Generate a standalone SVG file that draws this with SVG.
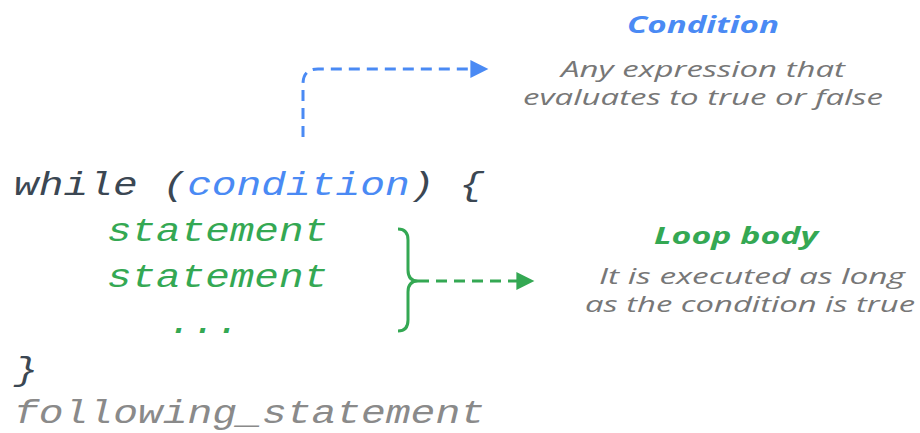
<svg xmlns="http://www.w3.org/2000/svg" width="920" height="433" viewBox="0 0 920 433">
  <style>
    .code { font-family: "Liberation Mono", "DejaVu Sans Mono", monospace; font-style: italic; font-size: 34px; }
    .dark { fill: #3b4753; }
    .blue { fill: #4a8af4; }
    .green { fill: #34a853; }
    .grey { fill: #8a8a8a; }
    .title { font-family: "Open Sans", "Noto Sans", sans-serif; font-style: italic; font-weight: bold; font-size: 24px; }
    .note { font-family: "Open Sans", "Noto Sans", sans-serif; font-style: italic; font-size: 22px; fill: #777777; }
    .dash { fill: none; stroke-width: 3; stroke-dasharray: 11 7; }
  </style>
  <defs>
    <marker id="arrowBlue" viewBox="0 0 10 10" refX="2" refY="5" markerWidth="7" markerHeight="6" orient="auto" markerUnits="strokeWidth">
      <path d="M0,0 L10,5 L0,10 Z" fill="#4a8af4"/>
    </marker>
    <marker id="arrowGreen" viewBox="0 0 10 10" refX="2" refY="5" markerWidth="7" markerHeight="6" orient="auto" markerUnits="strokeWidth">
      <path d="M0,0 L10,5 L0,10 Z" fill="#34a853"/>
    </marker>
  </defs>
  <rect width="920" height="433" fill="#ffffff"/>

  <g id="code">
    <text class="code dark" x="14" y="195" textLength="470" lengthAdjust="spacingAndGlyphs">while (<tspan class="blue">condition</tspan>) {</text>
    <text class="code green" x="107" y="241" textLength="221" lengthAdjust="spacingAndGlyphs">statement</text>
    <text class="code green" x="107" y="287" textLength="221" lengthAdjust="spacingAndGlyphs">statement</text>
    <text class="code green" x="168" y="333" textLength="72" lengthAdjust="spacingAndGlyphs">...</text>
    <text class="code dark" x="14" y="380" textLength="24" lengthAdjust="spacingAndGlyphs">}</text>
    <text class="code grey" x="14" y="423" textLength="471" lengthAdjust="spacingAndGlyphs">following_statement</text>
  </g>

  <g id="condition-note">
    <text class="title blue" x="703" y="33" text-anchor="middle" textLength="152" lengthAdjust="spacingAndGlyphs">Condition</text>
    <text class="note" x="703" y="77" text-anchor="middle" textLength="284" lengthAdjust="spacingAndGlyphs">Any expression that</text>
    <text class="note" x="703" y="105" text-anchor="middle" textLength="360" lengthAdjust="spacingAndGlyphs">evaluates to true or false</text>
  </g>

  <g id="loop-body-note">
    <text class="title green" x="736" y="244" text-anchor="middle" textLength="164" lengthAdjust="spacingAndGlyphs">Loop body</text>
    <text class="note" x="752" y="284" text-anchor="middle" textLength="306" lengthAdjust="spacingAndGlyphs">It is executed as long</text>
    <text class="note" x="750" y="312" text-anchor="middle" textLength="330" lengthAdjust="spacingAndGlyphs">as the condition is true</text>
  </g>

  <g id="connectors">
    <path class="dash" stroke="#4a8af4" d="M303,137 L303,84 Q303,69 318,69 L474,69" marker-end="url(#arrowBlue)"/>
    <path fill="none" stroke="#34a853" stroke-width="3" d="M398,229 Q408,229 408,240 L408,270 Q408,281 418,281 Q408,281 408,292 L408,320 Q408,331 398,331"/>
    <path class="dash" stroke="#34a853" d="M418,281 L520,281" marker-end="url(#arrowGreen)"/>
  </g>
</svg>
